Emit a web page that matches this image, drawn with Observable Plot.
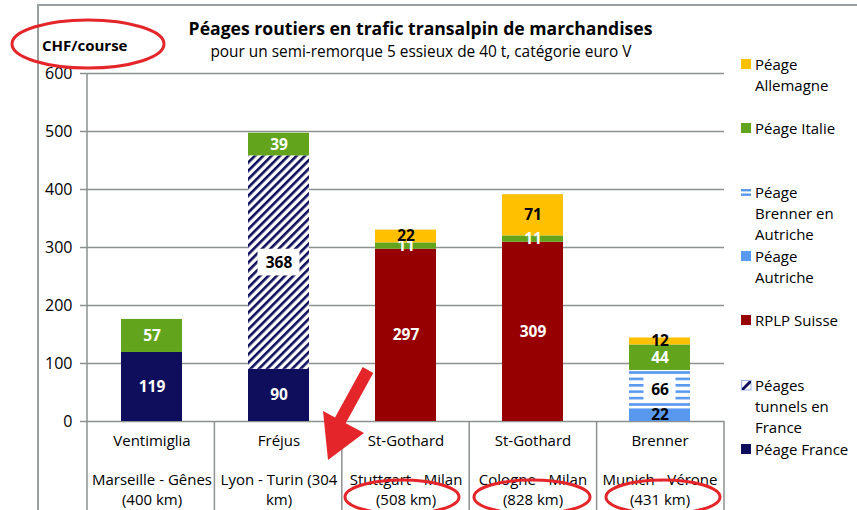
<!DOCTYPE html>
<html>
<head>
<meta charset="utf-8">
<script src="https://cdn.jsdelivr.net/npm/d3@7"></script>
<script src="https://cdn.jsdelivr.net/npm/@observablehq/plot@0.6"></script>
<style>
  html, body { margin: 0; padding: 0; background: #fff; }
  #wrap { position: relative; width: 857px; height: 510px; overflow: hidden; background: #fff;
          font-family: "Open Sans", sans-serif; color: #000; }
  #frame { position: absolute; left: 37px; top: 4px; width: 900px; height: 600px;
           border: 2px solid #9a9f9f; box-sizing: border-box; }
  #plot { position: absolute; left: 0; top: 0; }
  #title { position: absolute; left: 0; width: 841px; top: 15px; text-align: center;
           font-weight: bold; font-size: 17.6px; line-height: 26px; }
  #subtitle { position: absolute; left: 0; width: 842px; top: 41px; text-align: center;
              font-size: 15.4px; line-height: 22px; }
  #unit { position: absolute; left: 42px; top: 34px; font-weight: bold; font-size: 15px; line-height: 22px; }
  #legend { position: absolute; left: 0; top: 0; }
  .item { position: absolute; left: 741px; font-size: 15px; line-height: 21.3px; white-space: pre-line; }
  .item svg { position: absolute; left: 0; top: 5px; }
  .item span { position: absolute; left: 14px; top: 0; white-space: pre; }
  #annot { position: absolute; left: 0; top: 0; pointer-events: none; }
  svg g[aria-label^="y-axis"] line, svg g[aria-label^="y-axis"] path { stroke: #8c9090; stroke-width: 1.5; }
</style>
</head>
<body>
<div id="wrap">
  <div id="frame"></div>
  <div id="plot"></div>
  <div id="title"></div>
  <div id="subtitle"></div>
  <div id="unit"></div>
  <div id="legend"></div>
</div>
<script>
// ---------- data ----------
const titleText = "Péages routiers en trafic transalpin de marchandises";
const subtitleText = "pour un semi-remorque 5 essieux de 40 t, catégorie euro V";
const unitText = "CHF/course";

const passes = ["Ventimiglia", "Fréjus", "St-Gothard", "St-Gothard", "Brenner"];
const routes = ["Marseille - Gênes\n(400 km)", "Lyon - Turin (304\nkm)", "Stuttgart - Milan\n(508 km)", "Cologne - Milan\n(828 km)", "Munich - Vérone\n(431 km)"];

const series = ["Péage France", "Péages tunnels en France", "RPLP Suisse", "Péage Autriche", "Péage Brenner en Autriche", "Péage Italie", "Péage Allemagne"];
const peageFrance   = [119, 90, 0, 0, 0];
const tunnelsFrance = [0, 368, 0, 0, 0];
const rplpSuisse    = [0, 0, 297, 309, 0];
const peageAutriche = [0, 0, 0, 0, 22];
const brennerAutriche = [0, 0, 0, 0, 66];
const peageItalie   = [57, 39, 11, 11, 44];
const peageAllemagne = [0, 0, 22, 71, 12];

const legendLabels = ["Péage\nAllemagne", "Péage Italie", "Péage\nBrenner en\nAutriche", "Péage\nAutriche", "RPLP Suisse", "Péages\ntunnels en\nFrance", "Péage France"];
const yTicks = [0, 100, 200, 300, 400, 500, 600];

// ---------- styles ----------
const seriesFill = ["#0e0e5c", "url(#hatch)", "#960000", "#5898ee", "url(#hstripes)", "#62a51c", "#ffc000"];
const labelFill  = ["white", "black", "white", "black", "black", "white", "black"];
const boxedSeries = ["Péages tunnels en France", "Péage Brenner en Autriche"];
const font = "Open Sans, sans-serif";
const grey = "#8c9090";

// ---------- build table ----------
const valueTable = [peageFrance, tunnelsFrance, rplpSuisse, peageAutriche, brennerAutriche, peageItalie, peageAllemagne];
const rows = [];
series.forEach((s, si) => routes.forEach((r, ri) => rows.push({route: r, series: s, si, value: valueTable[si][ri]})));

// white label backgrounds for patterned segments, derived from the stacked data
const boxes = [];
routes.forEach((r, ri) => {
  let base = 0;
  series.forEach((s, si) => {
    const v = valueTable[si][ri];
    if (v > 0 && boxedSeries.includes(s)) boxes.push({route: r, mid: base + v / 2, text: String(v)});
    base += v;
  });
});

document.getElementById("title").textContent = titleText;
document.getElementById("subtitle").textContent = subtitleText;
document.getElementById("unit").textContent = unitText;

const W = 857, H = 510;
const defs = () => {
  const g = d3.create("svg:defs");
  const h = g.append("pattern").attr("id", "hatch").attr("patternUnits", "userSpaceOnUse")
    .attr("width", 5.9).attr("height", 5.9).attr("patternTransform", "rotate(45)");
  h.append("rect").attr("width", 5.9).attr("height", 5.9).attr("fill", "white");
  h.append("rect").attr("width", 2.6).attr("height", 5.9).attr("fill", "#0e0e5c");
  const s = g.append("pattern").attr("id", "hstripes").attr("patternUnits", "userSpaceOnUse")
    .attr("width", 10).attr("height", 6.4);
  s.append("rect").attr("width", 10).attr("height", 6.4).attr("fill", "white");
  s.append("rect").attr("width", 10).attr("height", 2.6).attr("fill", "#5898ee");
  return g.node();
};

const boxMarks = boxes.map(b => {
  const inset = (61 - (b.text.length * 10 + 12)) / 2;
  return Plot.barY([b], {x: "route", y1: d => d.mid - 23, y2: d => d.mid + 23, fill: "white",
    insetLeft: inset, insetRight: inset});
});

const plot = Plot.plot({
  width: W, height: H,
  marginLeft: 87, marginRight: 133, marginTop: 73, marginBottom: 89,
  style: {fontFamily: font, fontSize: "16px", background: "transparent", color: "#000", overflow: "visible"},
  x: {type: "band", domain: routes, paddingInner: 0.52, paddingOuter: 0.26, axis: null},
  y: {domain: [0, 600], ticks: yTicks, tickSize: 7, tickPadding: 8, label: null, tickFormat: d => String(d)},
  color: {type: "ordinal", domain: series, range: seriesFill},
  marks: [
    defs,
    Plot.ruleY(yTicks, {stroke: grey, strokeWidth: 1.5}),
    Plot.barY(rows, {x: "route", y: "value", z: "series", fill: "series", order: null}),
    ...boxMarks,
    Plot.text(rows, Plot.stackY({
      filter: d => d.value > 0,
      x: "route", y: "value", z: "series", order: null,
      text: d => String(d.value),
      fill: d => labelFill[d.si],
      fontWeight: "bold", fontSize: 15.5
    })),
    Plot.text(routes, {x: d => d, text: (d, i) => passes[i], frameAnchor: "bottom", dy: 24, fontSize: 15}),
    Plot.text(routes, {x: d => d, text: d => d, frameAnchor: "bottom", dy: 49, lineAnchor: "top", lineHeight: 1.33, fontSize: 15})
  ]
});
document.getElementById("plot").appendChild(plot);

// table grid lines below the axis, positioned from the plot's x scale
(function tableLines() {
  const xs = plot.scale("x");
  const svg = d3.select(plot);
  const band = d3.scaleBand().domain(xs.domain).range(xs.range)
    .paddingInner(xs.paddingInner ?? 0.52).paddingOuter(xs.paddingOuter ?? 0.26).align(xs.align ?? 0.5);
  const step = band.step(), bw = band.bandwidth();
  const ys = plot.scale("y");
  const yScale = d3.scaleLinear().domain(ys.domain).range(ys.range);
  const y0 = yScale(0), yTop = yScale(600);
  const edges = routes.map(r => band(r) - (step - bw) / 2);
  edges.push(band(routes[routes.length - 1]) + bw + (step - bw) / 2);
  const g = svg.append("g").attr("stroke", grey).attr("stroke-width", 1.5);
  g.append("line").attr("x1", edges[0]).attr("x2", edges[0]).attr("y1", yTop).attr("y2", H);
  edges.slice(1).forEach(e => g.append("line").attr("x1", e).attr("x2", e).attr("y1", y0).attr("y2", H));
})();

// ---------- legend ----------
const legend = d3.select("#legend");
const legendOrder = series.slice().reverse();
legendOrder.forEach((s, i) => {
  const si = series.indexOf(s);
  const it = legend.append("div").attr("class", "item").style("top", (53.5 + i * 64.2) + "px");
  const sw = it.append("svg").attr("width", 11).attr("height", 11);
  if (s === "Péage Brenner en Autriche") {
    sw.append("rect").attr("x", 0).attr("y", 2).attr("width", 10).attr("height", 2.4).attr("fill", "#5898ee");
    sw.append("rect").attr("x", 0).attr("y", 6.5).attr("width", 10).attr("height", 2.4).attr("fill", "#5898ee");
  } else if (s === "Péages tunnels en France") {
    sw.append("rect").attr("x", 0.5).attr("y", 0.5).attr("width", 9.5).attr("height", 9.5).attr("fill", "white").attr("stroke", "#9db3e6");
    sw.append("path").attr("d", "M1,8 L8,1 L10,1 L10,3 L3,10 L1,10 Z").attr("fill", "#0e0e5c");
  } else {
    sw.append("rect").attr("x", 0).attr("y", 0).attr("width", 10).attr("height", 10).attr("fill", seriesFill[si]);
  }
  it.append("span").text(legendLabels[i]);
});

// ---------- red hand-drawn annotations ----------
const ann = d3.select("#wrap").append("svg").attr("id", "annot").attr("width", W).attr("height", H);
const red = "#e4262a";
const ellipses = [[88, 44, 76, 24], [402, 497, 57, 17], [532, 497, 58, 17], [663, 497, 57, 17]];
ellipses.forEach(([cx, cy, rx, ry]) => ann.append("ellipse").attr("cx", cx).attr("cy", cy).attr("rx", rx).attr("ry", ry)
  .attr("fill", "none").attr("stroke", red).attr("stroke-width", 3));
ann.append("line").attr("x1", 368).attr("y1", 370).attr("x2", 340).attr("y2", 421).attr("stroke", red).attr("stroke-width", 12);
ann.append("path").attr("d", "M323,411 L364,433 L328,460 Z").attr("fill", red);
</script>
</body>
</html>
